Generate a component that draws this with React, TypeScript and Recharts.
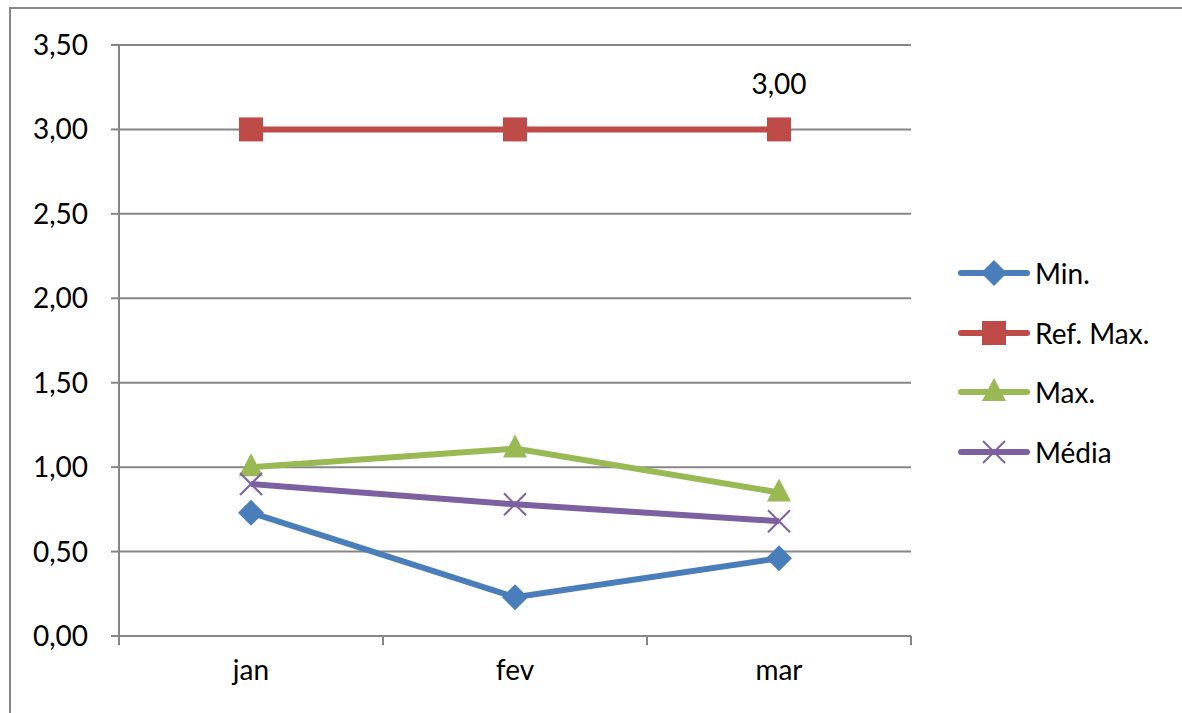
import { LineChart, Line, XAxis, YAxis, CartesianGrid, LabelList } from 'recharts';

const months = ['jan', 'fev', 'mar'];
const minValues = [0.73, 0.23, 0.46];
const refMaxValues = [3.0, 3.0, 3.0];
const maxValues = [1.0, 1.11, 0.85];
const mediaValues = [0.9, 0.78, 0.68];
const yTicks = [0, 0.5, 1, 1.5, 2, 2.5, 3, 3.5];

const FONT = 'Lato, "Open Sans", sans-serif';
const FS = 28;

// x posicionado no meio de cada categoria, para ter traços nas fronteiras
const data = months.map((m, i) => ({
  x: i + 0.5,
  month: m,
  min: minValues[i],
  refMax: refMaxValues[i],
  max: maxValues[i],
  media: mediaValues[i],
}));

const xTicks = [0, 0.5, 1, 1.5, 2, 2.5, 3];

const fmt = (v: number) => v.toFixed(2).replace('.', ',');

const series = [
  { key: 'min', name: 'Min.', color: '#4a7ebb', shape: 'diamond' },
  { key: 'refMax', name: 'Ref. Max.', color: '#be4b48', shape: 'square' },
  { key: 'max', name: 'Max.', color: '#98b954', shape: 'triangle' },
  { key: 'media', name: 'Média', color: '#7d60a0', shape: 'x' },
];

function Marker({ cx, cy, shape, color }: { cx: number; cy: number; shape: string; color: string }) {
  if (cx == null || cy == null) return null;
  if (shape === 'diamond') {
    const r = 13;
    return <polygon points={`${cx},${cy - r} ${cx + r},${cy} ${cx},${cy + r} ${cx - r},${cy}`} fill={color} />;
  }
  if (shape === 'square') {
    const r = 12;
    return <rect x={cx - r} y={cy - r} width={r * 2} height={r * 2} fill={color} />;
  }
  if (shape === 'triangle') {
    return <polygon points={`${cx},${cy - 14} ${cx + 12},${cy + 9} ${cx - 12},${cy + 9}`} fill={color} />;
  }
  const r = 11;
  return (
    <g stroke={color} strokeWidth={2}>
      <line x1={cx - r} y1={cy - r} x2={cx + r} y2={cy + r} />
      <line x1={cx - r} y1={cy + r} x2={cx + r} y2={cy - r} />
    </g>
  );
}

function XTick(props: any) {
  const { x, y, payload } = props;
  const v = payload.value as number;
  if (Number.isInteger(v)) {
    return <line x1={x} y1={y - 8} x2={x} y2={y + 1} stroke="#868686" strokeWidth={2} />;
  }
  const idx = Math.floor(v);
  return (
    <text x={x} y={y + 36} textAnchor="middle" fontSize={FS} fontFamily={FONT} fill="#000">
      {months[idx]}
    </text>
  );
}

function LegendBox() {
  return (
    <div style={{ position: 'absolute', left: 957, top: 243, fontFamily: FONT, fontSize: FS, color: '#000' }}>
      {series.map(s => (
        <div key={s.key} style={{ display: 'flex', alignItems: 'center', height: 59.7 }}>
          <svg width={74} height={30} style={{ marginRight: 4 }}>
            <line x1={4} y1={15} x2={70} y2={15} stroke={s.color} strokeWidth={6} strokeLinecap="round" />
            <Marker cx={37} cy={15} shape={s.shape} color={s.color} />
          </svg>
          <span>{s.name}</span>
        </div>
      ))}
    </div>
  );
}

export default function App() {
  return (
    <div style={{ position: 'relative', width: 1182, height: 713, background: '#fff', overflow: 'hidden' }}>
      <style>{'body{margin:0}'}</style>
      <div
        style={{
          position: 'absolute',
          left: 9,
          top: 7,
          width: 1200,
          height: 740,
          border: '2px solid #868686',
        }}
      />
      <div style={{ position: 'absolute', left: 0, top: 0 }}>
        <LineChart width={1182} height={713} data={data} margin={{ top: 45, right: 271, bottom: 47, left: 0 }}>
          <CartesianGrid vertical={false} stroke="#868686" strokeWidth={2} />
          <XAxis
            dataKey="x"
            type="number"
            domain={[0, 3]}
            ticks={xTicks}
            interval={0}
            height={30}
            tick={<XTick />}
            tickLine={false}
            axisLine={{ stroke: '#868686', strokeWidth: 2 }}
          />
          <YAxis
            domain={[0, 3.5]}
            ticks={yTicks}
            interval={0}
            width={119}
            tickFormatter={fmt}
            tickSize={8}
            tickMargin={23}
            tickLine={{ stroke: '#868686', strokeWidth: 2 }}
            axisLine={{ stroke: '#868686', strokeWidth: 2 }}
            tick={{ fontSize: FS, fontFamily: FONT, fill: '#000' }}
          />
          {series.map(s => (
            <Line
              key={s.key}
              dataKey={s.key}
              name={s.name}
              stroke={s.color}
              strokeWidth={6}
              isAnimationActive={false}
              dot={(p: any) => <Marker key={`${s.key}-${p.index}`} cx={p.cx} cy={p.cy} shape={s.shape} color={s.color} />}
              activeDot={false}
            >
              {s.key === 'refMax' && (
                <LabelList
                  dataKey="refMax"
                  content={(p: any) =>
                    p.index === 2 ? (
                      <text x={p.x} y={p.y - 35} textAnchor="middle" fontSize={FS} fontFamily={FONT} fill="#000">
                        {fmt(Number(p.value))}
                      </text>
                    ) : null
                  }
                />
              )}
            </Line>
          ))}
        </LineChart>
      </div>
      <LegendBox />
    </div>
  );
}
